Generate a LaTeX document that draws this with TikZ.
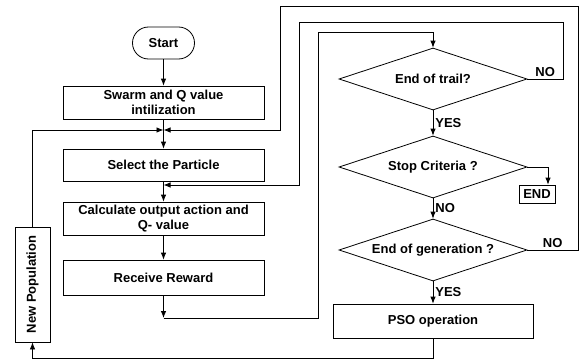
\documentclass[tikz,border=0pt]{standalone}
\usepackage{fontspec}
\setmainfont{Liberation Sans}
\usetikzlibrary{shapes.geometric,arrows.meta}

\begin{document}
\begin{tikzpicture}[x=1pt,y=-1pt,
  font=\fontsize{13}{15}\selectfont\bfseries,
  box/.style={draw, line width=0.8pt, rectangle, minimum width=201pt, minimum height=33pt, align=center, inner sep=1pt},
  decide/.style={draw, line width=0.8pt, diamond, aspect=3, minimum width=188pt, minimum height=62pt, inner sep=0pt},
  arr/.style={line width=0.8pt, -{Latex[length=7pt,width=5.5pt]}},
  lbl/.style={inner sep=2pt}]

\useasboundingbox (0,0) rectangle (582,364);

\node[draw, line width=0.8pt, rounded corners=16pt, minimum width=62pt, minimum height=32pt] (start) at (163.5,43) {Start};
\node[box] (swarm) at (163.5,102.5) {Swarm and Q value\\intilization};
\node[box, minimum height=32pt] (select) at (163.5,165) {Select the Particle};
\node[box] (calc) at (163.5,218.5) {Calculate output action and\\Q- value};
\node[box, minimum height=35pt] (reward) at (163.5,277.5) {Receive Reward};
\node[draw, line width=0.8pt, rotate=90, minimum width=115pt, minimum height=35pt] (newpop) at (32.5,284.5) {New Population};

\node[decide] (trail) at (433,79) {End of trail?};
\node[decide] (stop) at (433,167) {Stop Criteria ?};
\node[decide] (gen) at (433,250) {End of generation ?};
\node[box, minimum width=200pt, minimum height=34pt] (pso) at (433,321) {PSO operation};
\node[draw, line width=0.8pt, minimum width=36pt, minimum height=18pt, inner sep=1pt] (finish) at (537,194) {END};

\coordinate (j1) at (163.5,130);
\coordinate (j2) at (163.5,185);
\coordinate (j3) at (163.5,318);
\coordinate (o1) at (578,6);
\coordinate (o2) at (280,130);
\coordinate (m1) at (563,22);
\coordinate (m2) at (299,185);
\coordinate (i1) at (318,32);
\coordinate (h1) at (548,167);
\coordinate (b1) at (433,358);

\draw[arr] (start) -- (swarm);
\draw[arr] (swarm) -- (select);
\draw[arr] (select) -- (calc);
\draw[arr] (calc) -- (reward);
\draw[arr] (reward) -- (j3);
\draw[arr] (j3) -| (i1) -| (trail.north);
\draw[arr] (trail) -- node[lbl, right]{YES} (stop);
\draw[arr] (stop) -- node[lbl, right]{NO} (gen);
\draw[arr] (gen) -- node[lbl, right]{YES} (pso);
\draw[arr] (stop.east) -- (h1) -- (h1 |- finish.north);
\draw[arr] (trail.east) -- node[lbl, above]{NO} (trail.east -| m1) -- (m1) -| (m2) -- (j2);
\draw[arr] (gen.east) -- node[lbl, above]{NO} (gen.east -| o1) -- (o1) -| (o2) -- (j1);
\draw[arr] (newpop) |- (j1);
\draw[arr] (pso) -- (b1) -| (newpop);
\end{tikzpicture}
\end{document}
